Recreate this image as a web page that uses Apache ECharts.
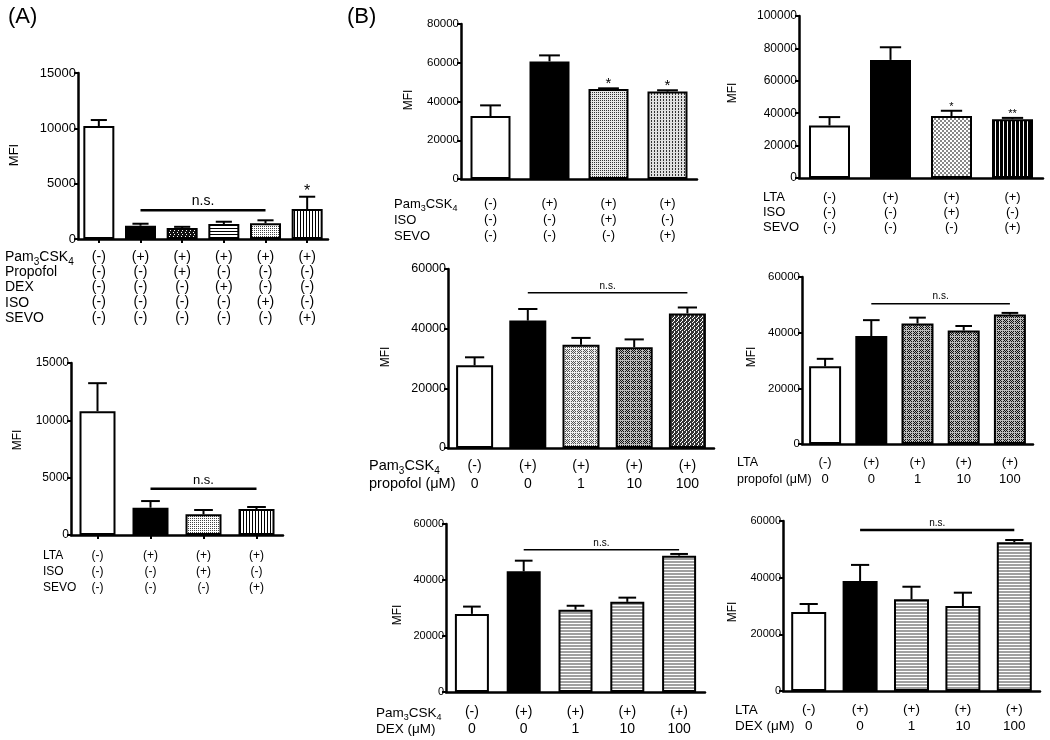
<!DOCTYPE html>
<html><head><meta charset="utf-8">
<script src="https://cdn.jsdelivr.net/npm/echarts@6/dist/echarts.min.js"></script>
<style>html,body{margin:0;padding:0;background:#fff}#c{width:1050px;height:740px}</style>
</head><body><div id="c"></div>
<script>
// ---------------- DATA ----------------
// (A) top: Pam3CSK4 with anesthetics
const A1_means = [10200, 1200, 1000, 1350, 1420, 2700];
const A1_errs  = [550, 180, 100, 210, 270, 1120];
const A1_rowNames = ['Pam3CSK4', 'Propofol', 'DEX', 'ISO', 'SEVO'];
const A1_pam  = ['(-)', '(+)', '(+)', '(+)', '(+)', '(+)'];
const A1_prop = ['(-)', '(-)', '(+)', '(-)', '(-)', '(-)'];
const A1_dex  = ['(-)', '(-)', '(-)', '(+)', '(-)', '(-)'];
const A1_iso  = ['(-)', '(-)', '(-)', '(-)', '(+)', '(-)'];
const A1_sevo = ['(-)', '(-)', '(-)', '(-)', '(-)', '(+)'];
const A1_ns = [1, 4, 2600];          // from bar, to bar, level
const A1_stars = [[5, '*']];

// (A) bottom: LTA with ISO / SEVO
const A2_means = [10800, 2380, 1800, 2260];
const A2_errs  = [2440, 580, 380, 180];
const A2_rowNames = ['LTA', 'ISO', 'SEVO'];
const A2_lta  = ['(-)', '(+)', '(+)', '(+)'];
const A2_iso  = ['(-)', '(-)', '(+)', '(-)'];
const A2_sevo = ['(-)', '(-)', '(-)', '(+)'];
const A2_ns = [1, 3, 4030];

// (B) Pam3CSK4 + ISO / SEVO
const B1_means = [32500, 60700, 46500, 45100];
const B1_errs  = [5500, 3100, 300, 700];
const B1_rowNames = ['Pam3CSK4', 'ISO', 'SEVO'];
const B1_pam  = ['(-)', '(+)', '(+)', '(+)'];
const B1_iso  = ['(-)', '(-)', '(+)', '(-)'];
const B1_sevo = ['(-)', '(-)', '(-)', '(+)'];
const B1_stars = [[2, '*'], [3, '*']];

// (B) LTA + ISO / SEVO
const B2_means = [32400, 72900, 38200, 36300];
const B2_errs  = [5200, 7800, 3300, 800];
const B2_rowNames = ['LTA', 'ISO', 'SEVO'];
const B2_lta  = ['(-)', '(+)', '(+)', '(+)'];
const B2_iso  = ['(-)', '(-)', '(+)', '(-)'];
const B2_sevo = ['(-)', '(-)', '(-)', '(+)'];
const B2_stars = [[2, '*'], [3, '**']];

// (B) Pam3CSK4 + propofol
const B3_means = [27700, 42700, 34600, 33800, 45100];
const B3_errs  = [2700, 3900, 2300, 2600, 2000];
const B3_rowNames = ['Pam3CSK4', 'propofol (μM)'];
const B3_pam  = ['(-)', '(+)', '(+)', '(+)', '(+)'];
const B3_dose = ['0', '0', '1', '10', '100'];
const B3_ns = [1, 4, 52000];

// (B) LTA + propofol
const B4_means = [27900, 38800, 43300, 40800, 46500];
const B4_errs  = [2700, 5700, 2100, 1600, 600];
const B4_rowNames = ['LTA', 'propofol (μM)'];
const B4_lta  = ['(-)', '(+)', '(+)', '(+)', '(+)'];
const B4_dose = ['0', '0', '1', '10', '100'];
const B4_ns = [1, 4, 50400];

// (B) Pam3CSK4 + DEX
const B5_means = [27900, 43100, 29400, 32200, 48700];
const B5_errs  = [2600, 3800, 1400, 1500, 600];
const B5_rowNames = ['Pam3CSK4', 'DEX (μM)'];
const B5_pam  = ['(-)', '(+)', '(+)', '(+)', '(+)'];
const B5_dose = ['0', '0', '1', '10', '100'];
const B5_ns = [1, 4, 50800];

// (B) LTA + DEX
const B6_means = [27900, 38800, 32400, 30000, 52500];
const B6_errs  = [2800, 5700, 4400, 4700, 800];
const B6_rowNames = ['LTA', 'DEX (μM)'];
const B6_lta  = ['(-)', '(+)', '(+)', '(+)', '(+)'];
const B6_dose = ['0', '0', '1', '10', '100'];
const B6_ns = [1, 4, 56800];

// ---------------- STYLE ----------------
const FONT = '"Liberation Sans", Arial, Helvetica, sans-serif';
function tile(rows, on, off) {
  const c = document.createElement('canvas');
  c.width = rows[0].length; c.height = rows.length;
  const g = c.getContext('2d');
  for (let y = 0; y < rows.length; y++) for (let x = 0; x < rows[0].length; x++) {
    g.fillStyle = rows[y][x] === '#' ? on : off; g.fillRect(x, y, 1, 1);
  }
  return { image: c, repeat: 'repeat' };
}
const FILL = {
  white: '#ffffff', black: '#000000',
  isoA: tile(['#.', '..'], '#444', '#fff'),
  dexA: tile(['#', '.', '.'], '#000', '#fff'),
  sevoV: tile(['#..'], '#000', '#fff'),
  propA: tile(['#.##', '####', '##.#', '####'], '#111', '#fff'),
  b1iso: tile(['#.', '..'], '#333', '#e8e8e8'),
  b1sevo: tile(['#..', '#..', '...'], '#333', '#e0e0e0'),
  b2iso: tile(['##..', '##..', '..##', '..##'], '#888', '#fff'),
  b2sevo: tile(['###.'], '#000', '#fff'),
  plaidL: tile(['......', '.#.#.#', '..#.#.', '.#.#.#', '..#.#.', '.#.#.#'], '#555', '#eee'),
  plaidD: tile(['......', '.#.#.#', '..#.#.', '.#.#.#', '..#.#.', '.#.#.#'], '#111', '#bbb'),
  crossD: tile(['##.#', '#.##', '.###', '##.#'], '#333', '#fff'),
  dexB: tile(['#', '#', '.'], '#a0a0a0', '#fff')
};

const PANELS = [
  { means: A1_means, errs: A1_errs, rowNames: A1_rowNames, rows: [A1_pam, A1_prop, A1_dex, A1_iso, A1_sevo], ns: A1_ns, stars: A1_stars,
    L: { grid: { left: 78, top: 73, width: 250, height: 166 }, max: 15000, interval: 5000, barW: 31, tickFont: 13, xFont: 14, lh: 15.3, margin: 10, xTicks: true,
         rowX: 5, rowY: 257, rowFont: 14, mfi: [14, 155], mfiFont: 13, nsFont: 14, nsW: 2.5, starFont: 16, starGap: 3,
         fills: ['white', 'black', 'propA', 'dexA', 'isoA', 'sevoV'] } },
  { means: A2_means, errs: A2_errs, rowNames: A2_rowNames, rows: [A2_lta, A2_iso, A2_sevo], ns: A2_ns, stars: [],
    L: { grid: { left: 71, top: 363, width: 212, height: 172 }, max: 15000, interval: 5000, barW: 36, tickFont: 12, xFont: 12, lh: 16, margin: 13, xTicks: true,
         rowX: 43, rowY: 556, rowFont: 12, mfi: [18, 440], mfiFont: 12, nsFont: 13, nsW: 2.5,
         fills: ['white', 'black', 'isoA', 'sevoV'] } },
  { means: B1_means, errs: B1_errs, rowNames: B1_rowNames, rows: [B1_pam, B1_iso, B1_sevo], ns: null, stars: B1_stars,
    L: { grid: { left: 461, top: 24, width: 236, height: 155 }, max: 80000, interval: 20000, barW: 40, tickFont: 11.5, xFont: 13, lh: 16, margin: 16.5,
         rowX: 394, rowY: 204, rowFont: 13, mfi: [409, 100], mfiFont: 12, starFont: 15, starGap: 3,
         fills: ['white', 'black', 'b1iso', 'b1sevo'] } },
  { means: B2_means, errs: B2_errs, rowNames: B2_rowNames, rows: [B2_lta, B2_iso, B2_sevo], ns: null, stars: B2_stars,
    L: { grid: { left: 799, top: 16, width: 244, height: 162 }, max: 100000, interval: 20000, barW: 41, tickFont: 12, xFont: 13, lh: 15, margin: 11.5,
         rowX: 763, rowY: 197, rowFont: 13, mfi: [733, 93], mfiFont: 12, starFont: 11, starGap: 2,
         fills: ['white', 'black', 'b2iso', 'b2sevo'] } },
  { means: B3_means, errs: B3_errs, rowNames: B3_rowNames, rows: [B3_pam, B3_dose], ns: B3_ns, stars: [],
    L: { grid: { left: 448, top: 269, width: 266, height: 179 }, max: 60000, interval: 20000, barW: 37, tickFont: 12.5, xFont: 14, lh: 18.3, margin: 8.5,
         rowX: 369, rowY: 466, rowFont: 14.5, mfi: [386, 357], mfiFont: 12, nsFont: 10, nsW: 1.5,
         fills: ['white', 'black', 'plaidL', 'plaidD', 'crossD'] } },
  { means: B4_means, errs: B4_errs, rowNames: B4_rowNames, rows: [B4_lta, B4_dose], ns: B4_ns, stars: [],
    L: { grid: { left: 802, top: 277, width: 231, height: 167 }, max: 60000, interval: 20000, barW: 32, tickFont: 11.5, xFont: 13, lh: 17, margin: 10,
         rowX: 737, rowY: 463, rowFont: 12.5, mfi: [752, 357], mfiFont: 12, nsFont: 10, nsW: 1.5,
         fills: ['white', 'black', 'plaidD', 'plaidD', 'plaidD'] } },
  { means: B5_means, errs: B5_errs, rowNames: B5_rowNames, rows: [B5_pam, B5_dose], ns: B5_ns, stars: [],
    L: { grid: { left: 446, top: 524, width: 259, height: 168 }, max: 60000, interval: 20000, barW: 34, tickFont: 11, xFont: 14, lh: 16.6, margin: 12,
         rowX: 376, rowY: 713, rowFont: 13.5, mfi: [398, 615], mfiFont: 12, nsFont: 10, nsW: 1.5,
         fills: ['white', 'black', 'dexB', 'dexB', 'dexB'] } },
  { means: B6_means, errs: B6_errs, rowNames: B6_rowNames, rows: [B6_lta, B6_dose], ns: B6_ns, stars: [],
    L: { grid: { left: 783, top: 521, width: 257, height: 170 }, max: 60000, interval: 20000, barW: 35, tickFont: 11, xFont: 13.5, lh: 16.7, margin: 10.3,
         rowX: 735, rowY: 710, rowFont: 13.5, mfi: [733, 612], mfiFont: 12, nsFont: 10, nsW: 2.5,
         fills: ['white', 'black', 'dexB', 'dexB', 'dexB'] } }
];

// ---------------- BUILD ----------------
function richLabel(name, fs) {
  const t = name.indexOf('Pam3CSK4') === 0 ? '{b|Pam}{s|3}{b|CSK}{s|4}' : '{b|' + name + '}';
  return {
    text: t,
    rich: {
      b: { fontSize: fs, fontFamily: FONT, lineHeight: fs + 2, fill: '#000' },
      s: { fontSize: Math.round(fs * 0.68), fontFamily: FONT, padding: [Math.round(fs * 0.7), 0, 0, 0], fill: '#000' }
    }
  };
}

const option = { backgroundColor: '#fff', animation: false, grid: [], xAxis: [], yAxis: [], series: [], graphic: [] };

option.graphic.push({ type: 'text', x: 8, y: 6, style: { text: '(A)', font: '22px ' + FONT, fill: '#000', align: 'left', verticalAlign: 'top' } });
option.graphic.push({ type: 'text', x: 347, y: 6, style: { text: '(B)', font: '22px ' + FONT, fill: '#000', align: 'left', verticalAlign: 'top' } });

PANELS.forEach((p, gi) => {
  const L = p.L;
  const cats = p.rows[0].map((_, i) => p.rows.map(r => r[i]).join('\n'));
  option.grid.push(Object.assign({}, L.grid));
  option.xAxis.push({
    type: 'category', gridIndex: gi, data: cats,
    axisLine: { lineStyle: { color: '#000', width: 2.5 } },
    axisTick: { show: !!L.xTicks, alignWithLabel: true, length: 4, lineStyle: { color: '#000', width: 2 } },
    axisLabel: { interval: 0, color: '#000', fontFamily: FONT, fontSize: L.xFont, lineHeight: L.lh, margin: L.margin },
    splitLine: { show: false }
  });
  option.yAxis.push({
    type: 'value', gridIndex: gi, min: 0, max: L.max, interval: L.interval,
    axisLine: { show: true, lineStyle: { color: '#000', width: 2.5 } },
    axisTick: { show: true, length: 4, lineStyle: { color: '#000', width: 2 } },
    axisLabel: { color: '#000', fontFamily: FONT, fontSize: L.tickFont, margin: 2, formatter: v => String(v) },
    splitLine: { show: false }
  });
  option.series.push({
    type: 'bar', xAxisIndex: gi, yAxisIndex: gi, barWidth: L.barW, silent: true, z: 2,
    data: p.means.map((v, i) => ({ value: v, itemStyle: { color: FILL[L.fills[i]], borderColor: '#000', borderWidth: 2 } }))
  });
  const capHalf = L.barW * 0.26;
  option.series.push({
    type: 'custom', xAxisIndex: gi, yAxisIndex: gi, silent: true, z: 3, clip: false,
    encode: { x: 0, y: 1 },
    data: p.means.map((m, i) => [i, m, p.errs[i]]),
    renderItem: (params, api) => {
      const i = api.value(0), m = api.value(1), e = api.value(2);
      const a = api.coord([i, m]), b = api.coord([i, m + e]);
      return { type: 'group', children: [
        { type: 'line', shape: { x1: a[0], y1: a[1], x2: b[0], y2: b[1] }, style: { stroke: '#000', lineWidth: 2 } },
        { type: 'line', shape: { x1: b[0] - capHalf, y1: b[1], x2: b[0] + capHalf, y2: b[1] }, style: { stroke: '#000', lineWidth: 2 } }
      ] };
    }
  });
  if (p.ns) {
    option.series.push({
      type: 'custom', xAxisIndex: gi, yAxisIndex: gi, silent: true, z: 4, clip: false,
      encode: { x: [0, 1], y: 2 },
      data: [p.ns],
      renderItem: (params, api) => {
        const a = api.coord([api.value(0), api.value(2)]), b = api.coord([api.value(1), api.value(2)]);
        return { type: 'group', children: [
          { type: 'line', shape: { x1: a[0], y1: a[1], x2: b[0], y2: b[1] }, style: { stroke: '#000', lineWidth: L.nsW } },
          { type: 'text', x: (a[0] + b[0]) / 2, y: a[1] - 2, style: { text: 'n.s.', font: L.nsFont + 'px ' + FONT, fill: '#000', align: 'center', verticalAlign: 'bottom' } }
        ] };
      }
    });
  }
  if (p.stars.length) {
    option.series.push({
      type: 'custom', xAxisIndex: gi, yAxisIndex: gi, silent: true, z: 4, clip: false,
      encode: { x: 0, y: 1 },
      data: p.stars.map(s => [s[0], p.means[s[0]] + p.errs[s[0]], s[1]]),
      renderItem: (params, api) => {
        const c = api.coord([api.value(0), api.value(1)]);
        return { type: 'text', x: c[0], y: c[1] + L.starGap, style: { text: api.value(2), font: L.starFont + 'px ' + FONT, fill: '#000', align: 'center', verticalAlign: 'bottom' } };
      }
    });
  }
  // condition row labels
  p.rowNames.forEach((n, r) => {
    option.graphic.push({ type: 'text', x: L.rowX, y: L.rowY + r * L.lh, style: Object.assign(richLabel(n, L.rowFont), { align: 'left', verticalAlign: 'middle' }) });
  });
  option.graphic.push({ type: 'text', x: L.mfi[0], y: L.mfi[1], rotation: Math.PI / 2,
    style: { text: 'MFI', font: L.mfiFont + 'px ' + FONT, fill: '#000', align: 'center', verticalAlign: 'middle' } });
});

const chart = echarts.init(document.getElementById('c'), null, { renderer: 'canvas', width: 1050, height: 740 });
chart.setOption(option);
</script></body></html>
